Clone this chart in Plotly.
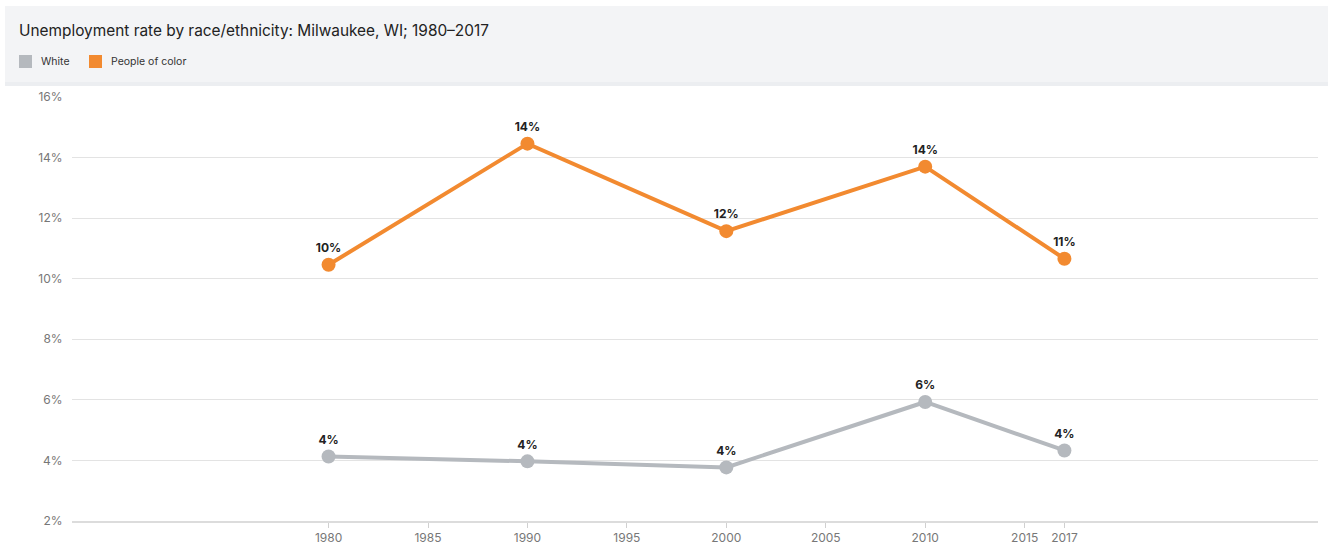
import plotly.graph_objects as go

years = [1980, 1990, 2000, 2010, 2017]
white = [4.13, 3.97, 3.77, 5.93, 4.33]
people_of_color = [10.46, 14.46, 11.57, 13.70, 10.66]
x_ticks = [1980, 1985, 1990, 1995, 2000, 2005, 2010, 2015, 2017]
y_ticks = [2, 4, 6, 8, 10, 12, 14, 16]
y_tick_text = [f"{v}%" for v in y_ticks]

GRAY = "#b5b9be"
ORANGE = "#f28a30"
FONT = "Inter, Lato, sans-serif"

W, H = 1328, 556
L, R, T, B = 72, 10, 97, 35
PW, PH = W - L - R, H - T - B


def px(x):
    return (x - L) / PW


def py(y):
    return (H - B - y) / PH


fig = go.Figure()

series = [("White", white, GRAY), ("People of color", people_of_color, ORANGE)]
for name, vals, col in series:
    fig.add_trace(go.Scatter(
        x=years, y=vals, mode="lines+markers+text", name=name,
        line=dict(color=col, width=4), marker=dict(color=col, size=14),
        texttemplate="%{y:.0f}%", textposition="top center",
        textfont=dict(family=FONT, size=12, color="#222222", weight="bold"),
        showlegend=False, hoverinfo="skip", cliponaxis=False,
    ))

shapes = [
    dict(type="rect", xref="paper", yref="paper",
         x0=px(5), x1=px(W), y0=py(82), y1=py(6),
         fillcolor="#f3f4f6", line=dict(width=0), layer="below"),
    dict(type="rect", xref="paper", yref="paper",
         x0=px(5), x1=px(W), y0=py(86), y1=py(82),
         fillcolor="#eceef1", line=dict(width=0), layer="below"),
]
annotations = []
legend_items = [(19, "White", GRAY), (89, "People of color", ORANGE)]
for x0, label, col in legend_items:
    shapes.append(dict(type="rect", xref="paper", yref="paper",
                       x0=px(x0), x1=px(x0 + 13), y0=py(68), y1=py(55),
                       fillcolor=col, line=dict(width=0)))
    annotations.append(dict(text=label, xref="paper", yref="paper",
                            x=px(x0 + 20), y=py(61.5), xanchor="left", yanchor="middle",
                            showarrow=False,
                            font=dict(family=FONT, size=10.5, color="#333333")))

fig.update_layout(
    width=W, height=H,
    margin=dict(l=L, r=R, t=T, b=B),
    paper_bgcolor="white", plot_bgcolor="white",
    font=dict(family=FONT, color="#777777", size=12),
    title=dict(text="Unemployment rate by race/ethnicity: Milwaukee, WI; 1980–2017",
               x=19 / W, xref="container", xanchor="left", y=1 - 31 / H, yanchor="middle",
               font=dict(family=FONT, size=15.4, color="#222222")),
    showlegend=False,
    shapes=shapes,
    annotations=annotations,
)

fig.update_xaxes(range=[1967.1, 2029.75], tickvals=x_ticks, ticks="outside",
                 ticklen=5, tickcolor="#d0d0d0", showgrid=False, zeroline=False,
                 showline=True, linecolor="#dcdcdc", linewidth=1.5,
                 tickfont=dict(size=12, color="#777777"))
fig.update_yaxes(range=[2, 16], tickvals=y_ticks, ticktext=y_tick_text, showgrid=True,
                 gridcolor="#e3e3e3", gridwidth=1, zeroline=False, ticks="outside",
                 ticklen=6, tickcolor="rgba(0,0,0,0)",
                 tickfont=dict(size=12, color="#777777"))

fig.write_html("out.html")
